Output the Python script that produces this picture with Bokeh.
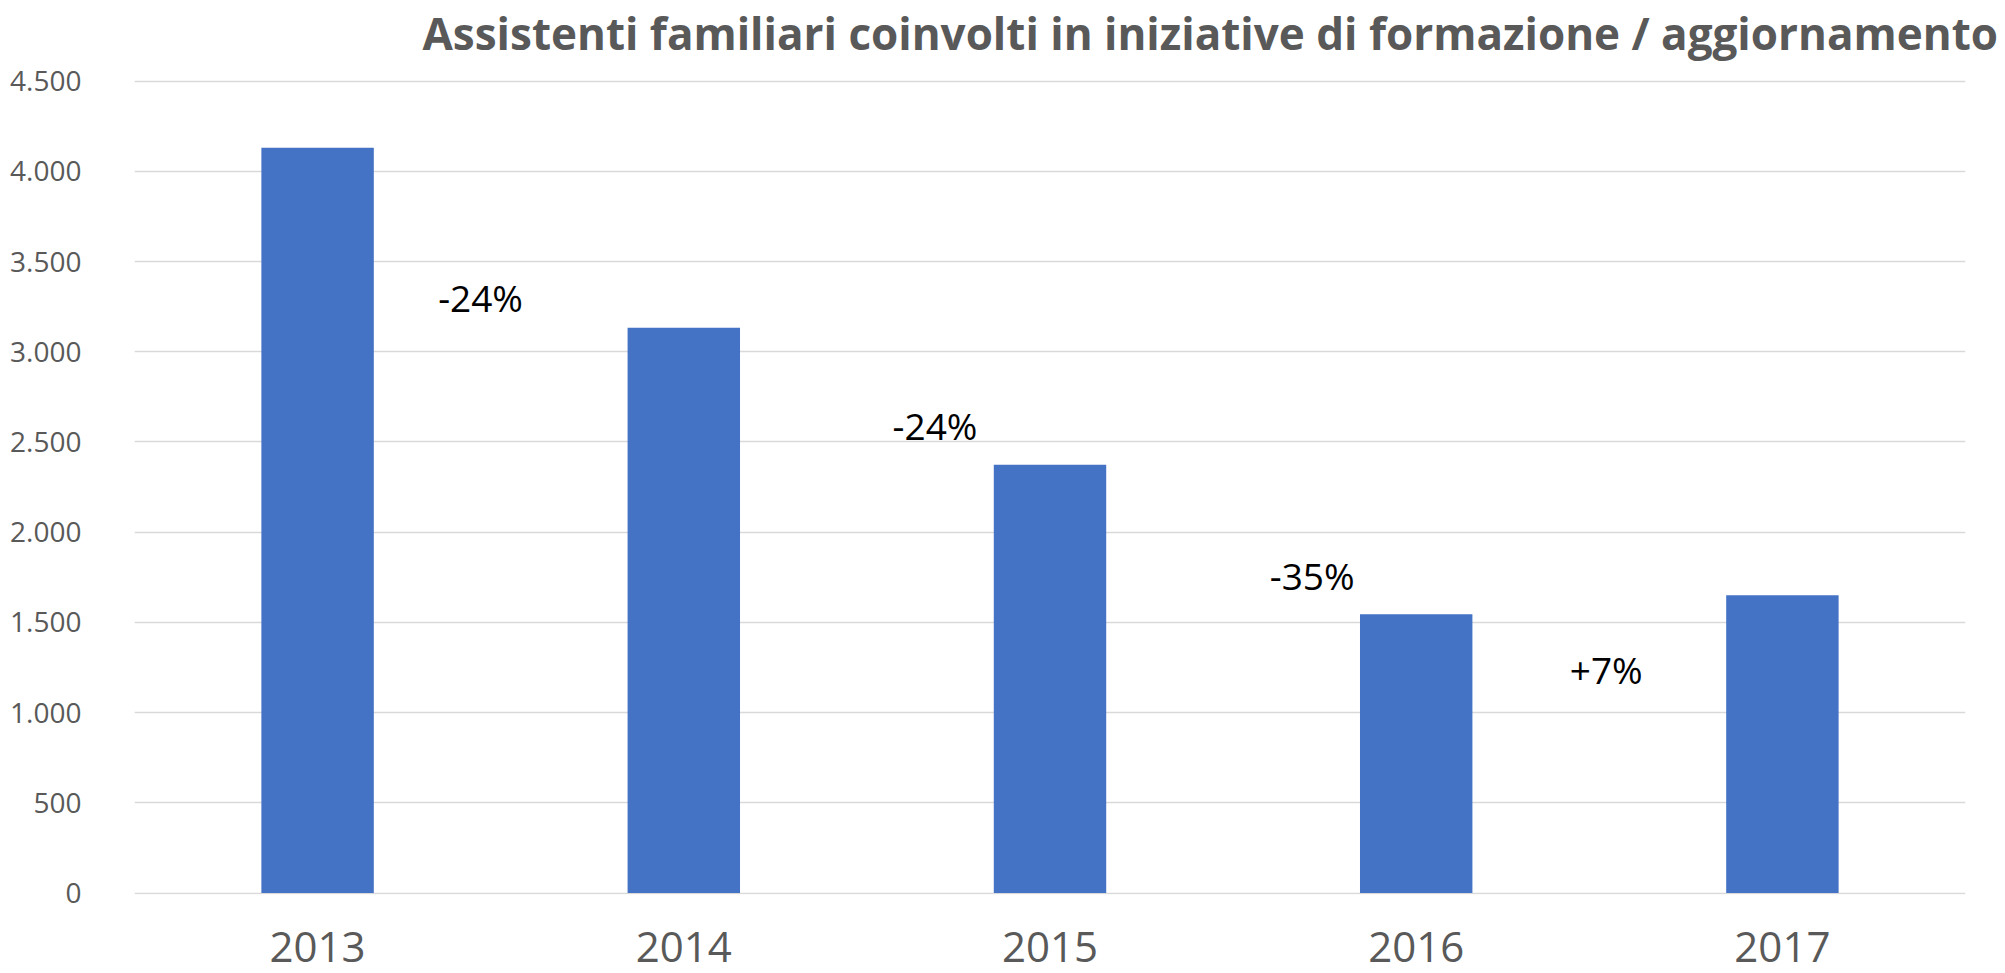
from bokeh.plotting import figure
from bokeh.models import FactorRange, Range1d, FixedTicker, ColumnDataSource
from bokeh.core.properties import value
from bokeh.embed import file_html
from bokeh.resources import INLINE

# ---- data ----
years = ["2013", "2014", "2015", "2016", "2017"]
counts = [4130, 3133, 2374, 1545, 1651]
y_ticks = [0, 500, 1000, 1500, 2000, 2500, 3000, 3500, 4000, 4500]
y_tick_labels = ["0", "500", "1.000", "1.500", "2.000", "2.500", "3.000", "3.500", "4.000", "4.500"]
change_labels = ["-24%", "-24%", "-35%", "+7%"]
# label anchor positions (synthetic x between categories, y in data units)
change_x = [0.945, 2.186, 3.216, 4.019]
change_y = [3303, 2594, 1758, 1240]
title_text = "Assistenti familiari coinvolti in iniziative di formazione / aggiornamento"

GRAY = "#595959"
FONT = "Open Sans"

p = figure(
    width=2005, height=973,
    x_range=FactorRange(*years, range_padding=0),
    y_range=Range1d(-8, 4603),
    output_backend="svg", toolbar_location=None,
    min_border_left=134, min_border_right=40, min_border_top=62, min_border_bottom=79,
)
p.outline_line_color = None
p.background_fill_color = "white"
p.border_fill_color = "white"

p.title.text = title_text
p.title.text_font = FONT
p.title.text_font_size = "44px"
p.title.text_font_style = "bold"
p.title.text_color = GRAY
p.title.align = "left"
p.title.offset = 288
p.title.standoff = 0

src = ColumnDataSource(dict(x=years, top=counts))
p.vbar(x="x", top="top", width=0.307, bottom=0, source=src,
       fill_color="#4472C4", line_color=None)

lsrc = ColumnDataSource(dict(x=change_x, y=change_y, t=change_labels))
p.text(x="x", y="y", text="t", source=lsrc, text_align="center", text_baseline="middle",
       text_font=value(FONT), text_font_size="37px", text_color="black")

p.xgrid.grid_line_color = None
p.ygrid.grid_line_color = "#D9D9D9"
p.ygrid.grid_line_width = 1.5
p.yaxis.ticker = FixedTicker(ticks=y_ticks)
p.yaxis.major_label_overrides = {t: l for t, l in zip(y_ticks, y_tick_labels)}

for ax in (p.xaxis[0], p.yaxis[0]):
    ax.axis_line_color = None
    ax.major_tick_line_color = None
    ax.minor_tick_line_color = None
    ax.major_tick_out = 0
    ax.major_tick_in = 0
    ax.major_label_text_font = FONT
    ax.major_label_text_color = GRAY

p.yaxis.major_label_text_font_size = "28px"
p.yaxis.major_label_standoff = 53
p.xaxis.major_label_text_font_size = "42px"
p.xaxis.major_label_standoff = 37

open("out.html", "w").write(file_html(p, INLINE))
